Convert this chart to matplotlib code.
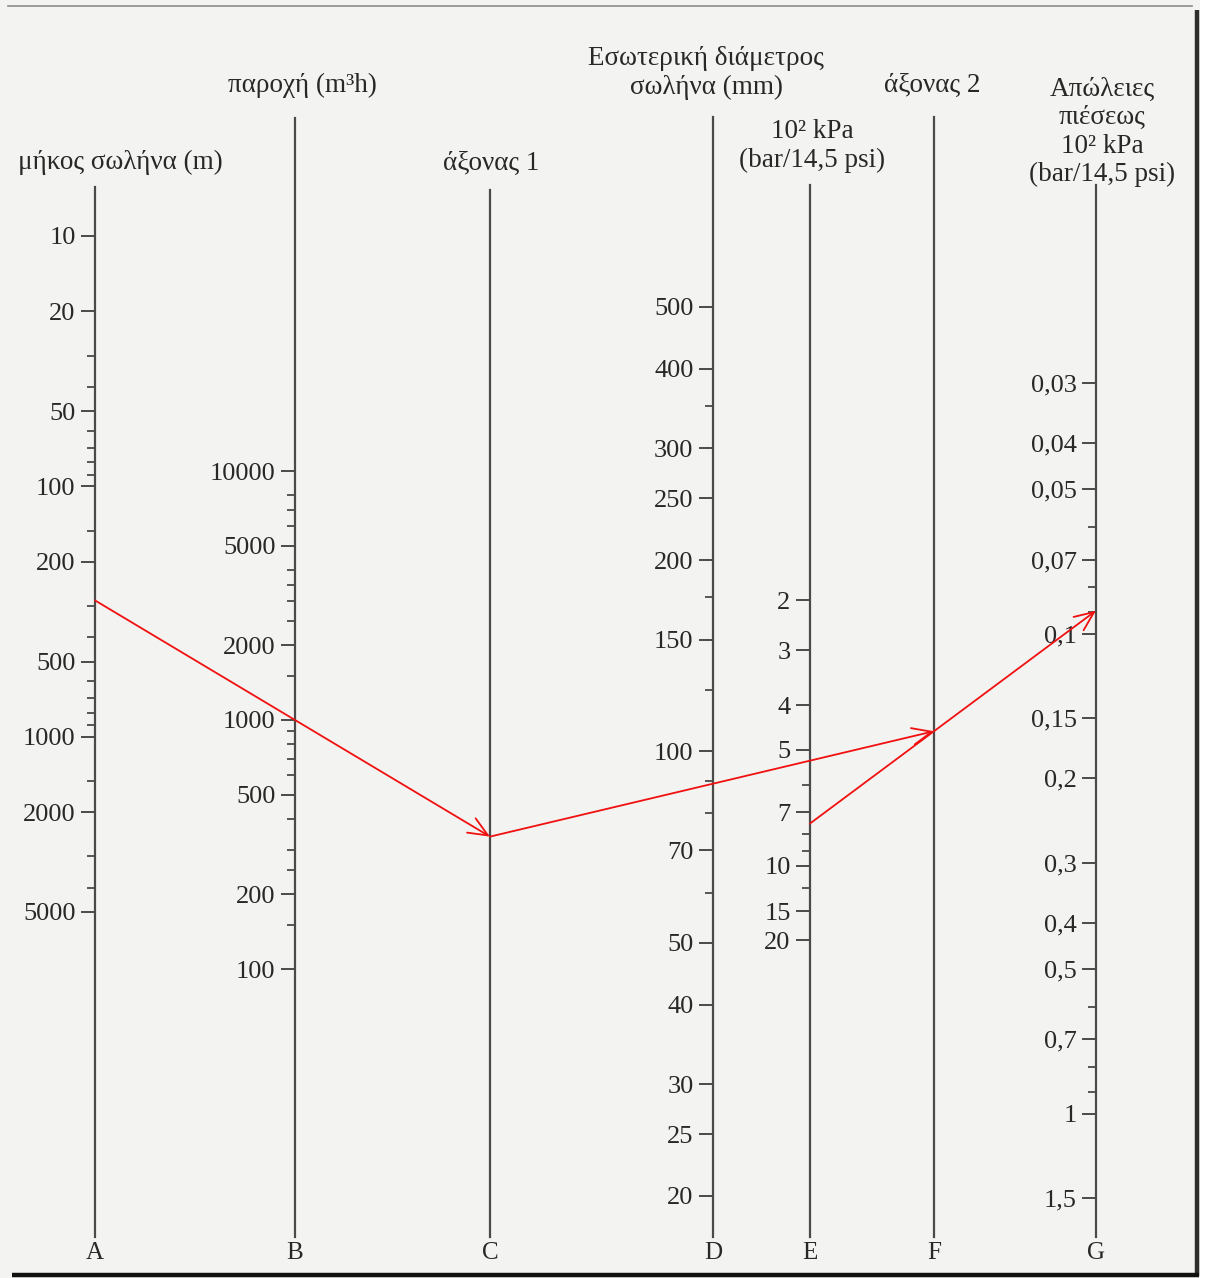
import numpy as np
import matplotlib.pyplot as plt
from matplotlib.patches import Rectangle
from matplotlib.ticker import NullFormatter

plt.rcParams['font.family'] = ['Liberation Serif', 'DejaVu Serif']

# A: μήκος σωλήνα (m)
length_major = [10, 20, 50, 100, 200, 500, 1000, 2000, 5000]
length_minor = [30, 40, 60, 70, 80, 90, 150, 300, 400, 600, 700, 800, 900,
                1500, 3000, 4000]
# B: παροχή (m3/h)
flow_major = [10000, 5000, 2000, 1000, 500, 200, 100]
flow_minor = [8000, 7000, 6000, 4000, 3500, 3000, 2500, 1500, 900, 800, 700,
              600, 400, 300, 250, 150]
# D: εσωτερική διάμετρος σωλήνα (mm)
diam_major = [500, 400, 300, 250, 200, 150, 100, 70, 50, 40, 30, 25, 20]
diam_minor = [350, 175, 125, 90, 80, 60]
# E: πίεση 10^2 kPa
press_major = [2, 3, 4, 5, 7, 10, 15, 20]
press_minor = [6, 8, 9, 12]
# G: απώλειες πιέσεως 10^2 kPa
loss_major = [0.03, 0.04, 0.05, 0.07, 0.1, 0.15, 0.2, 0.3, 0.4, 0.5, 0.7, 1, 1.5]
loss_minor = [0.06, 0.08, 0.09, 0.6, 0.8, 0.9]

# worked example drawn with the red arrows
ex_length = 285
ex_flow = 1000
ex_diam = 89
ex_press = 7.5

W, H = 1206, 1278
LINE = '#4a4a4a'
INK = '#282828'
BOTTOM = 1237
TICK_FS = 19
TITLE_FS = 19.5

fig = plt.figure(figsize=(W / 100, H / 100), dpi=100, facecolor='#f3f3f1')


def fmt(v):
    return f'{v:g}'.replace('.', ',')


def scale_axes(x, top):
    ax = fig.add_axes([x / W, 1 - BOTTOM / H, 0.002, (BOTTOM - top) / H])
    ax.patch.set_visible(False)
    for side in ('top', 'right', 'bottom'):
        ax.spines[side].set_visible(False)
    ax.spines['left'].set_color(LINE)
    ax.spines['left'].set_linewidth(1.6)
    ax.set_xlim(0, 1)
    ax.set_xticks([])
    return ax


def log_scale(ax, top, v1, p1, v2, p2):
    # two calibration marks (value, row) fix the logarithmic scale
    k = (p2 - p1) / np.log10(v2 / v1)
    ax.set_yscale('log')
    ax.set_ylim(v1 * 10 ** ((BOTTOM - p1) / k), v1 * 10 ** ((top - p1) / k))


def put_ticks(ax, major, minor):
    ax.set_yticks(major, [fmt(v) for v in major])
    ax.set_yticks(minor, minor=True)
    ax.yaxis.set_minor_formatter(NullFormatter())
    ax.tick_params(axis='y', which='major', length=10, width=1.4, color=LINE,
                   labelsize=TICK_FS, labelcolor=INK, pad=4)
    ax.tick_params(axis='y', which='minor', length=5.5, width=1.3, color=LINE)


# the pressure scale E is hand drawn, not a clean logarithm:
# rows follow a quartic in log10(value), straight beyond the printed range
E_POLY = [614.95, -2271.53, 2840.50, -1027.06, 708.69]
E_LO, E_HI = 0.3, 1.35
E_DPOLY = np.polyder(E_POLY)


def e_rows(u):
    u = np.asarray(u, dtype=float)
    uc = np.clip(u, E_LO, E_HI)
    slope = np.where(u < E_LO, np.polyval(E_DPOLY, E_LO),
                     np.polyval(E_DPOLY, E_HI))
    return np.polyval(E_POLY, uc) + slope * (u - uc)


E_U = np.linspace(-4, 7, 4001)
E_P = e_rows(E_U)


def e_fwd(v):
    return e_rows(np.log10(np.clip(v, 1e-9, None)))


def e_inv(p):
    return 10 ** np.interp(p, E_P, E_U)


axA = scale_axes(95, 187)
log_scale(axA, 187, 10, 236, 5000, 912)
put_ticks(axA, length_major, length_minor)

axB = scale_axes(295, 118)
log_scale(axB, 118, 10000, 471, 100, 969)
put_ticks(axB, flow_major, flow_minor)

axC = scale_axes(490, 190)
axC.set_yticks([])

axD = scale_axes(713, 117)
log_scale(axD, 117, 500, 307, 20, 1196)
put_ticks(axD, diam_major, diam_minor)

axE = scale_axes(810, 185)
axE.set_yscale('function', functions=(e_fwd, e_inv))
axE.set_ylim(e_inv(BOTTOM), e_inv(185))
put_ticks(axE, press_major, press_minor)

axF = scale_axes(934, 117)
axF.set_yticks([])

axG = scale_axes(1096, 185)
log_scale(axG, 185, 0.03, 383, 1.5, 1198)
put_ticks(axG, loss_major, loss_minor)

for ax, letter in zip([axA, axB, axC, axD, axE, axF, axG], 'ABCDEFG'):
    x = ax.get_position().x0
    fig.text(x, 1 - 1253 / H, letter, ha='center', va='center',
             fontsize=18, color=INK)


def txt(x, y, s, **kw):
    fig.text(x / W, 1 - y / H, s, ha='center', va='center',
             fontsize=TITLE_FS, color=INK, multialignment='center', **kw)


txt(120, 162, 'μήκος σωλήνα (m)')
txt(302, 85, 'παροχή (m³h)')
txt(491, 163, 'άξονας 1')
txt(706, 73, 'Εσωτερική διάμετρος\nσωλήνα (mm)', linespacing=1.2)
txt(812, 146, '10² kPa\n(bar/14,5 psi)', linespacing=1.2)
txt(932, 85, 'άξονας 2')
txt(1102, 132, 'Απώλειες\nπιέσεως\n10² kPa\n(bar/14,5 psi)', linespacing=1.18)


# geometry of the example: straight lines through the scales
def point(ax, v):
    return ax.transData.transform((0, v))


def on_line(p, q, x):
    return np.array([x, p[1] + (q[1] - p[1]) * (x - p[0]) / (q[0] - p[0])])


def x_of(ax):
    return ax.transAxes.transform((0, 0))[0]


pA = point(axA, ex_length)
pB = point(axB, ex_flow)
pC = on_line(pA, pB, x_of(axC))
pD = point(axD, ex_diam)
pF = on_line(pC, pD, x_of(axF))
pE = point(axE, ex_press)
pG = on_line(pE, pF, x_of(axG))

ov = fig.add_axes([0, 0, 1, 1])
ov.set_xlim(0, W)
ov.set_ylim(0, H)
ov.axis('off')
ov.patch.set_visible(False)

arrow = dict(arrowstyle='->,head_length=0.7,head_width=0.3', color='#f01010',
             lw=1.3, shrinkA=0, shrinkB=0, mutation_scale=20)
for start, end in [(pA, pC), (pC, pF), (pE, pG)]:
    ov.annotate('', xy=end, xytext=start, arrowprops=arrow)

# page frame
ov.add_patch(Rectangle((1200, 0), W - 1200, H, color='white', lw=0))
ov.plot([8, 1192], [H - 6, H - 6], color='#8c8c8c', lw=1.2)
ov.plot([1197, 1197], [H - 10, 2], color='#2e2e2e', lw=3.2,
        solid_capstyle='butt')
ov.plot([12, 1199], [3, 3], color='#111111', lw=3.2, solid_capstyle='butt')

fig.savefig('out.png', dpi=100, facecolor=fig.get_facecolor())
